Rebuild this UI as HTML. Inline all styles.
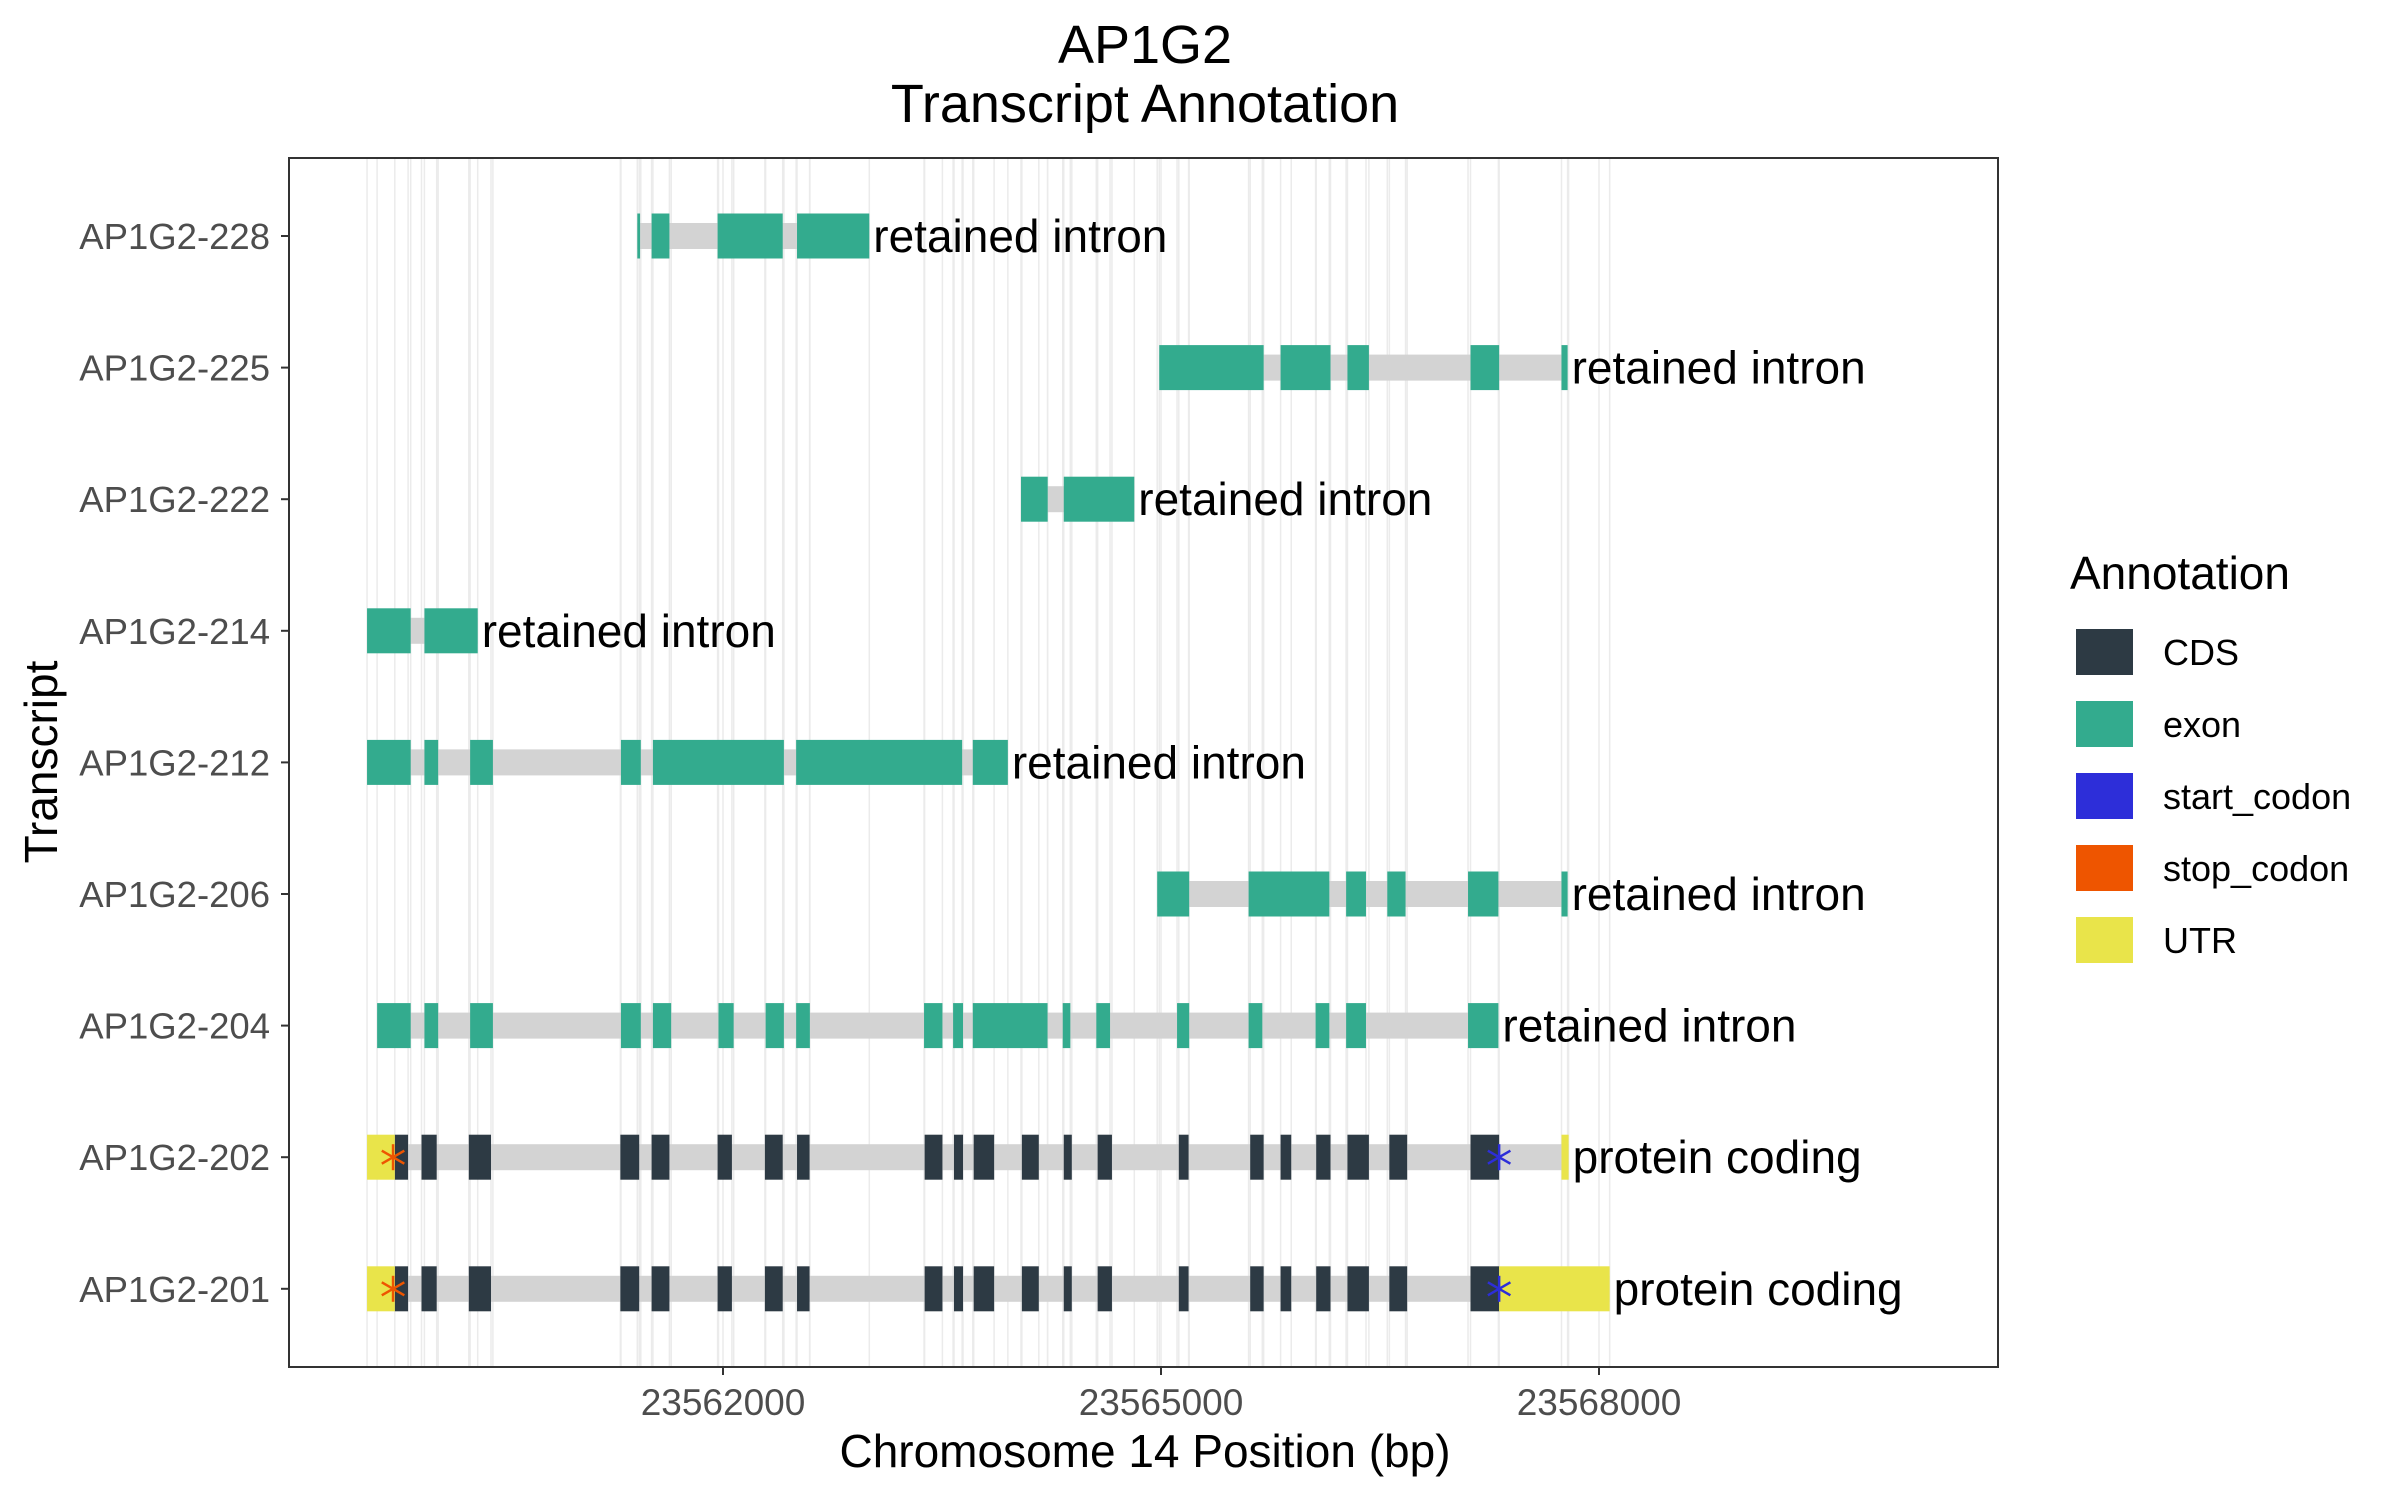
<!DOCTYPE html>
<html><head><meta charset="utf-8"><style>
body{margin:0;background:#fff;}
svg{display:block;font-family:"Liberation Sans",Arial,sans-serif;}
</style></head><body>
<svg id="chart" width="2400" height="1500" viewBox="0 0 2400 1500" xmlns="http://www.w3.org/2000/svg">
<g>
<text x="1145" y="63" font-size="54" text-anchor="middle" fill="#000">AP1G2</text>
<text x="1145" y="122" font-size="54" text-anchor="middle" fill="#000">Transcript Annotation</text>
</g>
<rect x="289" y="158" width="1709" height="1209" fill="#fff"/>
<g id="grid"></g>
<g id="marks"></g>
<rect x="289" y="158" width="1709" height="1209" fill="none" stroke="#333" stroke-width="2"/>
<g id="axes"></g>
<text x="1145" y="1467" font-size="46" text-anchor="middle" fill="#000">Chromosome 14 Position (bp)</text>
<text transform="translate(57,762) rotate(-90)" font-size="46" text-anchor="middle" fill="#000">Transcript</text>
<g>
<text x="2070" y="589" font-size="46" fill="#000">Annotation</text>
<g><rect x="2076" y="629" width="57" height="46" fill="#2d3a44"/><text x="2163" y="665" font-size="36" fill="#000">CDS</text></g>
<g><rect x="2076" y="701" width="57" height="46" fill="#33ab8e"/><text x="2163" y="737" font-size="36" fill="#000">exon</text></g>
<g><rect x="2076" y="773" width="57" height="46" fill="#2d2ed9"/><text x="2163" y="809" font-size="36" fill="#000">start_codon</text></g>
<g><rect x="2076" y="845" width="57" height="46" fill="#ee5500"/><text x="2163" y="881" font-size="36" fill="#000">stop_codon</text></g>
<g><rect x="2076" y="917" width="57" height="46" fill="#e9e44a"/><text x="2163" y="953" font-size="36" fill="#000">UTR</text></g>
</g>
</svg>
<script>
const transcripts = ["AP1G2-228","AP1G2-225","AP1G2-222","AP1G2-214","AP1G2-212","AP1G2-206","AP1G2-204","AP1G2-202","AP1G2-201"];
const biotypes = ["retained intron","retained intron","retained intron","retained intron","retained intron","retained intron","retained intron","protein coding","protein coding"];
const cds = [[23559752,23559843],[23559935,23560039],[23560259,23560411],[23561297,23561426],[23561511,23561633],[23561963,23562061],[23562287,23562409],[23562507,23562593],[23563381,23563503],[23563582,23563644],[23563717,23563857],[23564047,23564163],[23564334,23564389],[23564566,23564664],[23565122,23565189],[23565611,23565703],[23565819,23565892],[23566063,23566161],[23566277,23566424],[23566564,23566686],[23567120,23567316]];
const exons228 = [[23561413,23561432],[23561511,23561633],[23561963,23562409],[23562507,23563002]];
const exons225 = [[23564988,23565703],[23565819,23566161],[23566277,23566424],[23567120,23567316],[23567743,23567785]];
const exons222 = [[23564041,23564224],[23564334,23564817]];
const exons214 = [[23559562,23559861],[23559955,23560320]];
const exons212 = [[23559562,23559861],[23559955,23560049],[23560268,23560424],[23561301,23561437],[23561520,23562417],[23562501,23563638],[23563711,23563951]];
const exons206 = [[23564974,23565193],[23565600,23566153],[23566268,23566404],[23566550,23566675],[23567103,23567311],[23567743,23567785]];
const exons204 = [[23559631,23559861],[23559955,23560049],[23560268,23560424],[23561301,23561437],[23561520,23561645],[23561969,23562073],[23562292,23562417],[23562501,23562595],[23563377,23563503],[23563576,23563644],[23563711,23564223],[23564327,23564379],[23564557,23564651],[23565110,23565193],[23565600,23565694],[23566059,23566153],[23566268,23566404],[23567103,23567311]];
const utr202 = [[23559562,23559752],[23567743,23567792]];
const utr201 = [[23559562,23559752],[23567316,23568073]];
const stopCodon = 23559740;
const startCodon = 23567316;
const xTicks = [23562000,23565000,23568000];

const NS="http://www.w3.org/2000/svg";
function X(v){return 723+(v-23562000)*0.146;}
function Y(i){return 236+i*131.6;}
const colors={cds:"#2d3a44",exon:"#33ab8e",utr:"#e9e44a"};
const exonSets=[exons228,exons225,exons222,exons214,exons212,exons206,exons204];
const rows=[];
exonSets.forEach(e=>rows.push({blocks:e.map(b=>({s:b[0],e:b[1],t:"exon"}))}));
rows.push({blocks:cds.map(b=>({s:b[0],e:b[1],t:"cds"})).concat(utr202.map(b=>({s:b[0],e:b[1],t:"utr"}))),codons:true});
rows.push({blocks:cds.map(b=>({s:b[0],e:b[1],t:"cds"})).concat(utr201.map(b=>({s:b[0],e:b[1],t:"utr"}))),codons:true});
const grid=document.getElementById('grid'),marks=document.getElementById('marks'),axes=document.getElementById('axes');
function mk(tag,attrs,parent){const el=document.createElementNS(NS,tag);for(const k in attrs)el.setAttribute(k,attrs[k]);parent.appendChild(el);return el;}
const bounds=new Set();
rows.forEach(r=>r.blocks.forEach(b=>{bounds.add(b.s);bounds.add(b.e);}));
[...bounds].forEach(v=>{
  const l=mk('line',{x1:X(v),x2:X(v),y1:159,y2:1366,stroke:"#ebebeb","stroke-width":1.5},grid);
  
  
});
xTicks.forEach(v=>{
  const l=mk('line',{x1:X(v),x2:X(v),y1:159,y2:1366,stroke:"#ebebeb","stroke-width":1.5},grid);
  
  
});
rows.forEach((r,i)=>{
  const g=mk('g',{},marks);
  
  
  const mn=Math.min(...r.blocks.map(b=>b.s)),mx=Math.max(...r.blocks.map(b=>b.e));
  const y=Y(i);
  const intr=mk('rect',{x:X(mn),y:y-13,width:X(mx)-X(mn),height:26,fill:"#d3d3d3"},g);
  
  
  r.blocks.forEach(b=>{
    const w=Math.max(X(b.e)-X(b.s),2.5);
    const rc=mk('rect',{x:X(b.s),y:y-22.5,width:w,height:45,fill:colors[b.t]},g);
    
    
  });
  if(r.codons){
    [[stopCodon,"#ee5500","stop-codon"],[startCodon,"#2d2ed9","start-codon"]].forEach(c=>{
      const cx=X(c[0]);
      const sg=mk('g',{stroke:c[1],"stroke-width":2.5},g);
      
      
      for(let a=0;a<3;a++){const an=Math.PI/2+a*Math.PI/3;mk('line',{x1:cx-13*Math.cos(an),y1:y-13*Math.sin(an),x2:cx+13*Math.cos(an),y2:y+13*Math.sin(an)},sg);}
    });
  }
  const t=mk('text',{x:X(mx)+4,y:y+16,"font-size":46,fill:"#000"},g);
  t.textContent=biotypes[i];
  
  
  const tl=mk('text',{x:270,y:y+13,"font-size":36.5,fill:"#4d4d4d","text-anchor":"end"},axes);
  tl.textContent=transcripts[i];
  
  
  const tk=mk('line',{x1:281,x2:289,y1:y,y2:y,stroke:"#333","stroke-width":2},axes);
  
  
});
xTicks.forEach(v=>{
  const tk=mk('line',{x1:X(v),x2:X(v),y1:1367,y2:1375,stroke:"#333","stroke-width":2},axes);
  
  
  const tl=mk('text',{x:X(v),y:1415,"font-size":37,fill:"#4d4d4d","text-anchor":"middle"},axes);
  tl.textContent=String(v);
  
  
});
</script>
</body></html>
